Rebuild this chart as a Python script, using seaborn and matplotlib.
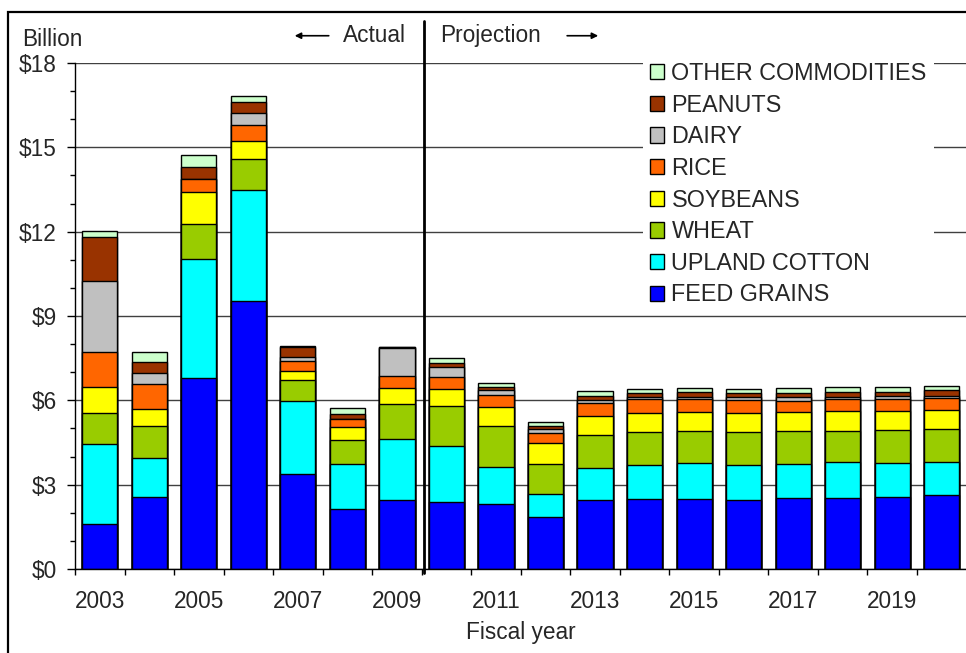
import matplotlib
matplotlib.use("Agg")
import matplotlib.pyplot as plt
from matplotlib.patches import Rectangle, Patch
from matplotlib.ticker import MultipleLocator, FixedLocator
import numpy as np
import pandas as pd
import seaborn as sns

years = [str(y) for y in range(2003, 2021)]
feed_grains = [1.59, 2.56, 6.81, 9.54, 3.38, 2.15, 2.46, 2.37, 2.32, 1.85, 2.44, 2.50, 2.50, 2.47, 2.52, 2.53, 2.57, 2.62]
upland_cotton = [2.86, 1.40, 4.23, 3.95, 2.59, 1.59, 2.17, 2.00, 1.30, 0.83, 1.16, 1.21, 1.27, 1.23, 1.23, 1.27, 1.21, 1.19]
wheat = [1.11, 1.14, 1.24, 1.09, 0.75, 0.85, 1.23, 1.43, 1.46, 1.06, 1.15, 1.15, 1.15, 1.16, 1.16, 1.12, 1.17, 1.16]
soybeans = [0.91, 0.60, 1.14, 0.63, 0.33, 0.46, 0.57, 0.61, 0.69, 0.75, 0.70, 0.68, 0.68, 0.68, 0.67, 0.71, 0.68, 0.69]
rice = [1.26, 0.88, 0.47, 0.60, 0.35, 0.28, 0.43, 0.41, 0.41, 0.34, 0.45, 0.50, 0.43, 0.47, 0.41, 0.40, 0.42, 0.43]
dairy = [2.52, 0.40, 0.00, 0.41, 0.13, 0.02, 0.99, 0.38, 0.17, 0.14, 0.11, 0.09, 0.10, 0.10, 0.12, 0.09, 0.10, 0.08]
peanuts = [1.55, 0.37, 0.42, 0.40, 0.36, 0.15, 0.03, 0.14, 0.13, 0.13, 0.15, 0.12, 0.16, 0.14, 0.16, 0.18, 0.15, 0.18]
other = [0.23, 0.37, 0.41, 0.21, 0.06, 0.21, 0.03, 0.16, 0.15, 0.14, 0.17, 0.16, 0.16, 0.16, 0.16, 0.19, 0.19, 0.17]

series_names = ["FEED GRAINS", "UPLAND COTTON", "WHEAT", "SOYBEANS", "RICE", "DAIRY", "PEANUTS", "OTHER COMMODITIES"]
series_values = [feed_grains, upland_cotton, wheat, soybeans, rice, dairy, peanuts, other]
series_colors = ["#0000FF", "#00FFFF", "#99CC00", "#FFFF00", "#FF6600", "#C0C0C0", "#993300", "#CCFFCC"]
y_ticks = [0, 3, 6, 9, 12, 15, 18]
y_tick_labels = ["$0", "$3", "$6", "$9", "$12", "$15", "$18"]

sns.set_style("white")
plt.rcParams["font.family"] = ["Liberation Sans", "DejaVu Sans"]
FS = 16.3

fig = plt.figure(figsize=(9.66, 6.53), dpi=100)
ax = fig.add_axes([75 / 966, 84 / 653, 891.5 / 966, 506 / 653])

df_c = pd.DataFrame({"year": years})
cum = np.zeros(len(years))
for name, vals in zip(series_names, series_values):
    cum = cum + np.array(vals)
    df_c[name] = cum.copy()

# draw from top layer down so lower layers overlay
for name, color in reversed(list(zip(series_names, series_colors))):
    sns.barplot(data=df_c, x="year", y=name, color=color, width=0.71,
                edgecolor="black", linewidth=1.0, saturation=1, errorbar=None,
                ax=ax, zorder=3)

ax.set_xlim(-0.5, 17.5)
ax.set_ylim(0, 18)
ax.set_xlabel("Fiscal year", fontsize=FS, labelpad=6)
ax.set_ylabel("")

# y ticks
ax.yaxis.set_major_locator(FixedLocator(y_ticks))
ax.set_yticklabels(y_tick_labels, fontsize=FS)
ax.yaxis.set_minor_locator(MultipleLocator(1))
ax.tick_params(axis="y", which="major", direction="out", length=6, width=1, pad=7, color="black", left=True)
ax.tick_params(axis="y", which="minor", direction="out", length=3.6, width=1, color="black", left=True)
ax.grid(axis="y", which="major", color="#404040", linewidth=1.0, zorder=0)
ax.set_axisbelow(True)

# x ticks
ax.xaxis.set_major_locator(FixedLocator(range(len(years))))
ax.set_xticklabels([y if i % 2 == 0 else "" for i, y in enumerate(years)], fontsize=FS)
ax.xaxis.set_minor_locator(FixedLocator(np.arange(-0.5, 17.6, 1)))
ax.tick_params(axis="x", which="major", length=0, pad=15)
ax.tick_params(axis="x", which="minor", direction="out", length=4.5, width=1, color="black", bottom=True)

for s in ["top", "right"]:
    ax.spines[s].set_visible(False)
for s in ["left", "bottom"]:
    ax.spines[s].set_color("black")
    ax.spines[s].set_linewidth(1.0)
    ax.spines[s].set_zorder(5)

# divider between actual and projection
ax.plot([6.55, 6.55], [-0.15, 19.5], color="black", linewidth=2.0, clip_on=False, zorder=6)
ax.text(6.19, 18.97, "Actual", fontsize=FS, ha="right", va="center")
ax.annotate("", xy=(3.88, 18.97), xytext=(4.68, 18.97), annotation_clip=False,
            arrowprops=dict(arrowstyle="-|>", color="black", lw=1.2, mutation_scale=9))
ax.text(6.87, 18.97, "Projection", fontsize=FS, ha="left", va="center")
ax.annotate("", xy=(10.12, 18.97), xytext=(9.38, 18.97), annotation_clip=False,
            arrowprops=dict(arrowstyle="-|>", color="black", lw=1.2, mutation_scale=9))

fig.text(22 / 966, 1 - 40 / 653, "Billion", fontsize=FS, ha="left", va="center")

# legend
handles = [Patch(facecolor=c, edgecolor="black", linewidth=1.0) for c in series_colors]
leg = ax.legend(handles[::-1], series_names[::-1], loc="upper left",
                bbox_to_anchor=(643 / 966, 1 - 55 / 653), bbox_transform=fig.transFigure,
                frameon=True, facecolor="white", edgecolor="none", framealpha=1,
                fontsize=16.8, handlelength=0.62, handleheight=0.62,
                handletextpad=0.3, labelspacing=0.37, borderpad=0.3, borderaxespad=0,
                fancybox=False)

# outer figure border
fig.patches.append(Rectangle((8 / 966, -0.05), 1.2, (653 - 12) / 653 + 0.05, fill=False,
                             edgecolor="black", linewidth=1.6, transform=fig.transFigure,
                             clip_on=False))

fig.savefig("out.png", dpi=100)
